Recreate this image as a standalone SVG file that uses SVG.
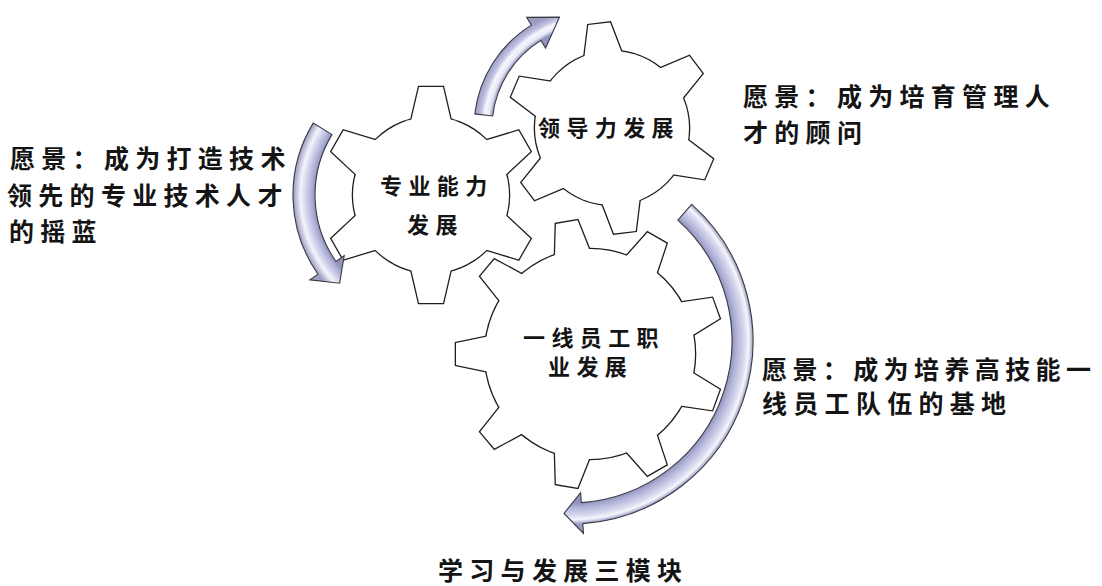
<svg xmlns="http://www.w3.org/2000/svg" width="1102" height="586" viewBox="0 0 1102 586">
<style>
.gs{fill:#fff;stroke:#1e1e1e;stroke-width:2.6;stroke-linejoin:miter}
.gf{fill:#fff;stroke:none}
.arrow{stroke:#3a3a44;stroke-width:1.1;stroke-linejoin:miter}
.v{font-family:"Noto Sans CJK SC","Noto Sans CJK JP",sans-serif;font-size:25px;font-weight:700;letter-spacing:6.3px;fill:#141414}
.g{font-family:"Noto Sans CJK SC","Noto Sans CJK JP",sans-serif;font-size:22px;font-weight:700;letter-spacing:6.4px;fill:#141414}
</style>
<defs>
<polygon id="t1" points="-20.4,-72 -12,-108 12,-108 20.4,-72"/>
<polygon id="t2" points="-19.5,-71 -11,-105 11,-105 19.5,-71"/>
<polygon id="t3" points="-18.2,-99 -11,-134 11,-134 18.2,-99"/>
<radialGradient id="ga1" gradientUnits="userSpaceOnUse" cx="431" cy="195" r="150">
<stop offset="0.7733" stop-color="#9294bd"/>
<stop offset="0.8027" stop-color="#b3b5da"/>
<stop offset="0.8393" stop-color="#d6d7ee"/>
<stop offset="0.8687" stop-color="#f4f4fb"/>
<stop offset="0.92" stop-color="#9a9cc2"/>
</radialGradient>
<radialGradient id="ga2" gradientUnits="userSpaceOnUse" cx="595" cy="128" r="135">
<stop offset="0.763" stop-color="#9294bd"/>
<stop offset="0.79" stop-color="#e8e8f6"/>
<stop offset="0.823" stop-color="#f6f6fc"/>
<stop offset="0.85" stop-color="#c2c3e2"/>
<stop offset="0.896" stop-color="#9a9cc2"/>
</radialGradient>
<radialGradient id="ga3" gradientUnits="userSpaceOnUse" cx="570" cy="341" r="200">
<stop offset="0.81" stop-color="#9294bd"/>
<stop offset="0.836" stop-color="#b3b5da"/>
<stop offset="0.873" stop-color="#d8d9ee"/>
<stop offset="0.894" stop-color="#f6f6fc"/>
<stop offset="0.915" stop-color="#9a9cc2"/>
</radialGradient>
</defs>
<rect width="1102" height="586" fill="#fff"/>

<g id="gear-frontline">
<g transform="translate(590,354)">
<g class="gs"><circle r="105"/><use href="#t3" transform="rotate(-10)"/><use href="#t3" transform="rotate(30)"/><use href="#t3" transform="rotate(70)"/><use href="#t3" transform="rotate(110)"/><use href="#t3" transform="rotate(150)"/><use href="#t3" transform="rotate(190)"/><use href="#t3" transform="rotate(230)"/><use href="#t3" transform="rotate(270)"/><use href="#t3" transform="rotate(310)"/></g>
<g class="gf"><circle r="105"/><use href="#t3" transform="rotate(-10)"/><use href="#t3" transform="rotate(30)"/><use href="#t3" transform="rotate(70)"/><use href="#t3" transform="rotate(110)"/><use href="#t3" transform="rotate(150)"/><use href="#t3" transform="rotate(190)"/><use href="#t3" transform="rotate(230)"/><use href="#t3" transform="rotate(270)"/><use href="#t3" transform="rotate(310)"/></g>
</g>
<text class="g" x="523" y="346">一线员工职</text>
<text class="g" x="548" y="375">业发展</text>
</g>

<g id="gear-professional">
<g transform="translate(431,195)">
<g class="gs"><circle r="78"/><use href="#t1"/><use href="#t1" transform="rotate(60)"/><use href="#t1" transform="rotate(120)"/><use href="#t1" transform="rotate(180)"/><use href="#t1" transform="rotate(240)"/><use href="#t1" transform="rotate(300)"/></g>
<g class="gf"><circle r="78"/><use href="#t1"/><use href="#t1" transform="rotate(60)"/><use href="#t1" transform="rotate(120)"/><use href="#t1" transform="rotate(180)"/><use href="#t1" transform="rotate(240)"/><use href="#t1" transform="rotate(300)"/></g>
</g>
<text class="g" x="380" y="194">专业能力</text>
<text class="g" x="407" y="233">发展</text>
</g>

<g id="gear-leadership">
<g transform="translate(612,128)">
<g class="gs"><circle r="77"/><use href="#t2" transform="rotate(-7)"/><use href="#t2" transform="rotate(53)"/><use href="#t2" transform="rotate(113)"/><use href="#t2" transform="rotate(173)"/><use href="#t2" transform="rotate(233)"/><use href="#t2" transform="rotate(293)"/></g>
<g class="gf"><circle r="77"/><use href="#t2" transform="rotate(-7)"/><use href="#t2" transform="rotate(53)"/><use href="#t2" transform="rotate(113)"/><use href="#t2" transform="rotate(173)"/><use href="#t2" transform="rotate(233)"/><use href="#t2" transform="rotate(293)"/></g>
</g>
<text class="g" x="538" y="136">领导力发展</text>
</g>

<g id="connectors">
<path class="arrow" fill="url(#ga1)" d="M313.2,123.1 A138,138 0 0 0 318.0,274.2 L309.8,279.9 L339.6,283.2 L344.2,255.8 L336.0,261.5 A116,116 0 0 1 332.0,134.6 Z"/>
<path class="arrow" fill="url(#ga2)" d="M474.8,113.9 A121,121 0 0 1 531.4,25.1 L526.7,17.4 L559.5,17.1 L545.6,48.0 L540.9,40.4 A103,103 0 0 0 492.7,116.0 Z"/>
<path class="arrow" fill="url(#ga3)" d="M691.7,204.4 A183,183 0 0 1 582.8,523.6 L583.5,533.5 L564.0,513.4 L580.6,492.6 L581.3,502.6 A162,162 0 0 0 677.8,220.1 Z"/>
</g>

<g id="vision-professional">
<text class="v" x="10" y="168">愿景：成为打造技术</text>
<text class="v" x="7" y="205">领先的专业技术人才</text>
<text class="v" x="9" y="241">的摇蓝</text>
</g>
<g id="vision-leadership">
<text class="v" x="743" y="106">愿景：成为培育管理人</text>
<text class="v" x="743" y="142">才的顾问</text>
</g>
<g id="vision-frontline">
<text class="v" x="762" y="379" style="letter-spacing:5.4px">愿景：成为培养高技能一</text>
<text class="v" x="762" y="413">线员工队伍的基地</text>
</g>
<g id="title">
<text class="v" x="438" y="580">学习与发展三模块</text>
</g>
</svg>
